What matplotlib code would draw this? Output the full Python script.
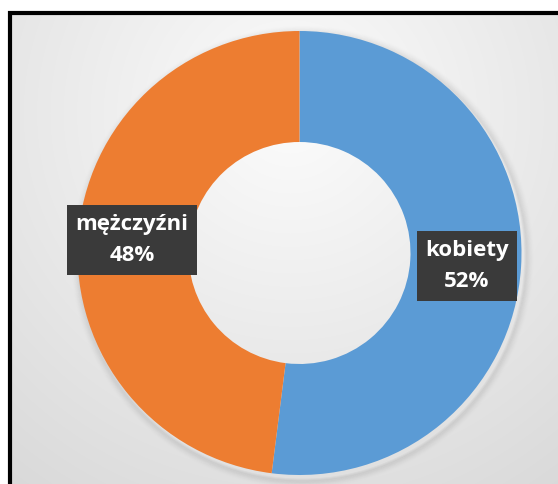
"""Donut chart: gender split (kobiety / mężczyźni)."""
import numpy as np
import matplotlib
matplotlib.use("Agg")
from matplotlib import pyplot as plt
from matplotlib.patches import Rectangle, Circle

labels = ["kobiety", "mężczyźni"]
shares = [52, 48]
colors = ["#5B9BD5", "#ED7D31"]

W, H = 558, 484
fig = plt.figure(figsize=(W / 100, H / 100), dpi=100)
fig.patch.set_facecolor("white")
ax = fig.add_axes([0, 0, 1, 1])

# background gradient (light in the middle/top, grey towards the bottom)
top = H - 13
yy, xx = np.mgrid[0:top, 0:W]
dist = np.sqrt((xx - 280) ** 2 + (yy - 100) ** 2)
grey = np.clip(252 - 0.075 * dist, 208, 252) / 255.0
ax.imshow(np.dstack([grey, grey, grey]), extent=(10, W + 10, 0, top),
          origin="upper", zorder=0)

cx, cy, r = 299.5, H - 253, 222
width = 0.5

# soft shadow
for k in range(8):
    ax.add_patch(Circle((cx + 3, cy - 4), r + 1 + k, facecolor="none",
                        edgecolor="black", linewidth=2,
                        alpha=0.035 * (8 - k) / 8, zorder=1))

wedges, _ = ax.pie(shares, colors=colors, startangle=90, counterclock=False,
                   center=(cx, cy), radius=r,
                   wedgeprops=dict(width=r * width, linewidth=0))
for w in wedges:
    w.set_zorder(2)

# data labels
box = dict(boxstyle="square,pad=0.38", facecolor="#3a3a3a", edgecolor="none")
pos = {"kobiety": (467, H - 266), "mężczyźni": (132, H - 240)}
for lab, val in zip(labels, shares):
    x, y = pos[lab]
    ax.text(x, y, f"{lab}\n{val}%", ha="center", va="center", color="white",
            fontsize=16, fontweight="bold", family=["Open Sans", "DejaVu Sans"],
            linespacing=1.65, bbox=box, zorder=5)

# chart frame
ax.add_patch(Rectangle((9.5, -20), W + 40, top + 20, fill=False,
                       edgecolor="black", linewidth=3, zorder=6))

ax.set_xlim(0, W)
ax.set_ylim(0, H)
ax.set_aspect("auto")
ax.axis("off")

fig.savefig("out.png", dpi=100)
